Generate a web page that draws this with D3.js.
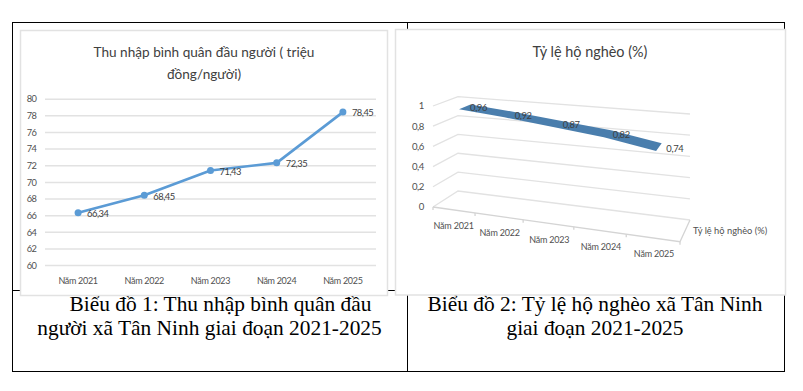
<!DOCTYPE html>
<html lang="vi">
<head>
<meta charset="utf-8">
<title>Biểu đồ xã Tân Ninh</title>
<script src="https://cdn.jsdelivr.net/npm/d3@7"></script>
<style>
html, body { margin: 0; padding: 0; background: #fff; }
svg { display: block; }
</style>
</head>
<body>
<div id="chart"></div>
<script>
const years = ["Năm 2021", "Năm 2022", "Năm 2023", "Năm 2024", "Năm 2025"];
const incomeValues = [66.34, 68.45, 71.43, 72.35, 78.45];
const incomeTicks = [60, 62, 64, 66, 68, 70, 72, 74, 76, 78, 80];
const povertyValues = [0.96, 0.92, 0.87, 0.82, 0.74];
const povertyTicks = [0, 0.2, 0.4, 0.6, 0.8, 1];
const incomeTitle = ["Thu nhập bình quân đầu người ( triệu", "đồng/người)"];
const povertyTitle = "Tỷ lệ hộ nghèo (%)";
const povertySeries = "Tỷ lệ hộ nghèo (%)";
const caption1 = ["Biểu đồ 1: Thu nhập bình quân đầu", "người xã Tân Ninh giai đoạn 2021-2025"];
const caption2 = ["Biểu đồ 2: Tỷ lệ hộ nghèo xã Tân Ninh", "giai đoạn 2021-2025"];

const width = 803;
const height = 391;
const uiFont = "Lato, sans-serif";
const gridColor = "#e2e2e2";
const commaNum = d3.formatLocale({ decimal: ",", thousands: ".", grouping: [3], currency: ["", ""] });
const fmt2 = v => commaNum.format(".2f")(v);
const fmtTick = v => String(v).replace(".", ",");

const svg = d3.select("#chart").append("svg")
    .attr("width", width)
    .attr("height", height)
    .attr("viewBox", `0 0 ${width} ${height}`);

// word table behind the two pictures
const table = svg.append("g")
    .attr("fill", "none")
    .attr("stroke", "#000")
    .attr("stroke-width", 1);
table.append("rect").attr("x", 12.5).attr("y", 22.5).attr("width", 772).attr("height", 349);
table.append("line").attr("x1", 407.5).attr("x2", 407.5).attr("y1", 22.5).attr("y2", 371.5);
table.append("line").attr("x1", 12.5).attr("x2", 784.5).attr("y1", 290.5).attr("y2", 290.5);

const captionStyle = sel => sel
    .attr("text-anchor", "middle")
    .attr("fill", "#000")
    .style("font-family", "'Liberation Serif', serif")
    .style("font-size", "21.4px");

svg.append("text").attr("x", 220.5).attr("y", 310.5).text(caption1[0]).call(captionStyle);
svg.append("text").attr("x", 209.5).attr("y", 335).text(caption1[1]).call(captionStyle);
svg.append("text").attr("x", 595).attr("y", 310.5).text(caption2[0]).call(captionStyle);
svg.append("text").attr("x", 595).attr("y", 335).text(caption2[1]).call(captionStyle);

// cards sit on top of the captions and cut off their upper marks
svg.append("rect").attr("x", 20.5).attr("y", 30.5).attr("width", 367).attr("height", 265)
    .attr("fill", "#fff").attr("stroke", "#e2e2e2").attr("stroke-width", 1.5);
svg.append("rect").attr("x", 395.5).attr("y", 29.5).attr("width", 390).attr("height", 265.5)
    .attr("fill", "#fff").attr("stroke", "#e2e2e2").attr("stroke-width", 1.5);

drawIncomeChart();
drawPovertyChart();

function drawIncomeChart() {
    const x = d3.scaleBand().domain(years).range([45, 376]);
    const y = d3.scaleLinear().domain([60, 80]).range([265.6, 99.2]);
    const cx = d => x(d) + x.bandwidth() / 2;

    const title = svg.append("g")
        .attr("text-anchor", "middle")
        .attr("fill", "#404040")
        .style("font-family", uiFont)
        .style("font-size", "13.6px");
    title.append("text").attr("x", 204).attr("y", 57).text(incomeTitle[0]);
    title.append("text").attr("x", 204).attr("y", 78.5).text(incomeTitle[1]);

    const grid = svg.append("g");
    grid.selectAll("line")
        .data(incomeTicks)
        .join("line")
        .attr("x1", 45)
        .attr("x2", 376)
        .attr("y1", d => y(d))
        .attr("y2", d => y(d))
        .attr("stroke", gridColor)
        .attr("stroke-width", 1.5);

    svg.append("g").selectAll("text")
        .data(incomeTicks)
        .join("text")
        .attr("x", 36.5)
        .attr("y", d => y(d) + 3.2)
        .attr("text-anchor", "end")
        .attr("fill", "#505050")
        .style("font-family", uiFont)
        .style("font-size", "9.3px")
        .style("letter-spacing", "-0.5px")
        .text(d => d);

    svg.append("g").selectAll("text")
        .data(years)
        .join("text")
        .attr("x", d => cx(d))
        .attr("y", 284)
        .attr("text-anchor", "middle")
        .attr("fill", "#505050")
        .style("font-family", uiFont)
        .style("font-size", "9px")
        .style("letter-spacing", "-0.3px")
        .text(d => d);

    const line = d3.line()
        .x((d, i) => cx(years[i]))
        .y(d => y(d));

    svg.append("path")
        .attr("d", line(incomeValues))
        .attr("fill", "none")
        .attr("stroke", "#5b9bd5")
        .attr("stroke-width", 2.6)
        .attr("stroke-linecap", "round")
        .attr("stroke-linejoin", "round");

    svg.append("g").selectAll("circle")
        .data(incomeValues)
        .join("circle")
        .attr("cx", (d, i) => cx(years[i]))
        .attr("cy", d => y(d))
        .attr("r", 3.5)
        .attr("fill", "#5b9bd5");

    svg.append("g").selectAll("text")
        .data(incomeValues)
        .join("text")
        .attr("x", (d, i) => cx(years[i]) + 9)
        .attr("y", d => y(d) + 4.3)
        .attr("fill", "#404040")
        .style("font-family", uiFont)
        .style("font-size", "9.4px")
        .style("letter-spacing", "-0.5px")
        .text(d => fmt2(d));
}

function drawPovertyChart() {
    // excel 3d line: front/back floor edges, wall height shrinks towards the back
    const along = d3.scalePow().exponent(1.1).domain([0, 1]).range([0, 1]);
    const floorX = { front: d3.scaleLinear().range([433, 680]), back: d3.scaleLinear().range([458, 690]) };
    const floorY = { front: d3.scaleLinear().range([207, 241.7]), back: d3.scaleLinear().range([191, 220]) };
    const wall = { front: d3.scaleLinear().range([101, 113]), back: d3.scaleLinear().range([94.3, 106]) };
    const lerp = d3.interpolateNumber;

    const project = (t, depth, v) => {
        const k = along(t);
        const px = lerp(floorX.front(k), floorX.back(k))(depth);
        const py = lerp(floorY.front(k), floorY.back(k))(depth);
        const h = lerp(wall.front(k), wall.back(k))(depth);
        return [px, py - v * h];
    };

    const band = d3.scaleBand().domain(years).range([0, 1]);
    const center = i => band(years[i]) + band.bandwidth() / 2;

    svg.append("text")
        .attr("x", 590)
        .attr("y", 57)
        .attr("text-anchor", "middle")
        .attr("fill", "#404040")
        .style("font-family", uiFont)
        .style("font-size", "14.4px")
        .text(povertyTitle);

    const grid = svg.append("g")
        .attr("fill", "none")
        .attr("stroke", gridColor)
        .attr("stroke-width", 1.3);
    const path = d3.line();

    // side wall and back wall gridlines
    grid.selectAll("path.wall")
        .data(povertyTicks)
        .join("path")
        .attr("class", "wall")
        .attr("d", d => path([project(0, 0, d), project(0, 1, d), project(1, 1, d)]));

    // floor outline
    const floor = svg.append("g")
        .attr("fill", "none")
        .attr("stroke", "#d4d4d4")
        .attr("stroke-width", 1.3);
    floor.append("path").attr("d", path([project(0, 0, 0), project(1, 0, 0), project(1, 1, 0)]));

    // tick marks on the front floor edge
    floor.selectAll("path.tick")
        .data(d3.range(0, years.length + 1))
        .join("path")
        .attr("class", "tick")
        .attr("d", i => {
            const p = project(i / years.length, 0, 0);
            return path([p, [p[0], p[1] + 3]]);
        });

    // ribbon
    const depthFront = 0.27;
    const depthBack = 0.75;
    const frontEdge = povertyValues.map((v, i) => project(center(i), depthFront, v));
    const backEdge = povertyValues.map((v, i) => project(center(i), depthBack, v));
    svg.append("path")
        .attr("d", path(frontEdge.concat(backEdge.reverse())) + "Z")
        .attr("fill", "#4a7ead");

    svg.append("g").selectAll("text")
        .data(povertyValues)
        .join("text")
        .attr("x", (d, i) => project(center(i), 0.5, d)[0] + (i === povertyValues.length - 1 ? 16 : 14))
        .attr("y", (d, i) => project(center(i), 0.5, d)[1] + (i === povertyValues.length - 1 ? 5 : 4))
        .attr("text-anchor", "middle")
        .attr("fill", "#404040")
        .style("font-family", uiFont)
        .style("font-size", "9.4px")
        .style("letter-spacing", "-0.4px")
        .text(d => fmt2(d));

    svg.append("g").selectAll("text")
        .data(povertyTicks)
        .join("text")
        .attr("x", d => project(0, 0, d)[0] - 9)
        .attr("y", d => project(0, 0, d)[1] + 3.3)
        .attr("text-anchor", "end")
        .attr("fill", "#505050")
        .style("font-family", uiFont)
        .style("font-size", "9.6px")
        .style("letter-spacing", "-0.4px")
        .text(d => fmtTick(d));

    svg.append("g").selectAll("text")
        .data(years)
        .join("text")
        .attr("x", (d, i) => project(center(i), 0, 0)[0] + 1)
        .attr("y", (d, i) => project(center(i), 0, 0)[1] + 19.5)
        .attr("text-anchor", "middle")
        .attr("fill", "#505050")
        .style("font-family", uiFont)
        .style("font-size", "9px")
        .style("letter-spacing", "-0.2px")
        .text(d => d);

    svg.append("text")
        .attr("x", 693)
        .attr("y", 234)
        .attr("fill", "#505050")
        .style("font-family", uiFont)
        .style("font-size", "9.3px")
        .text(povertySeries);
}
</script>
</body>
</html>
